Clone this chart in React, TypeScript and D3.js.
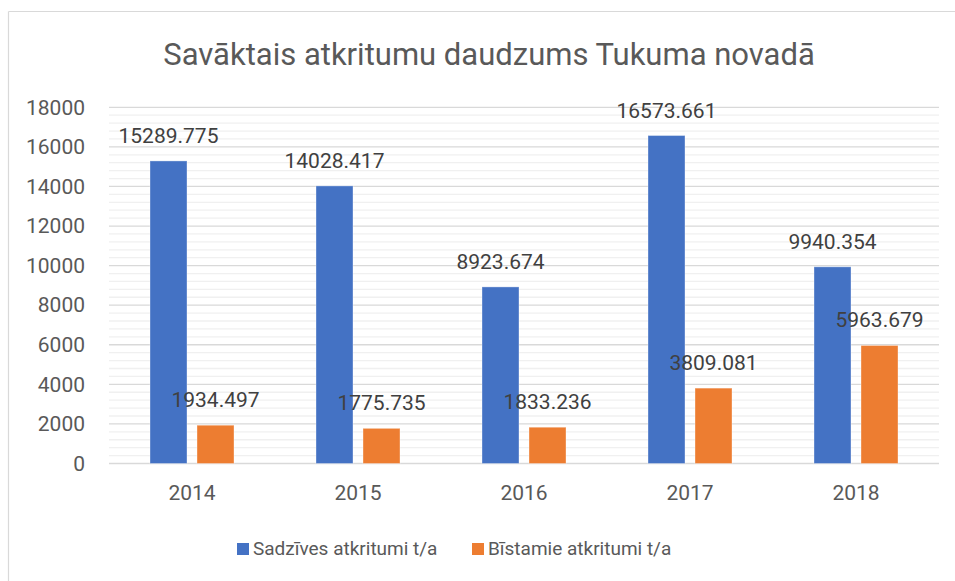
import React, { useEffect, useRef } from 'react'
import * as d3 from 'd3'

const years = ['2014', '2015', '2016', '2017', '2018']
const seriesNames = ['Sadzīves atkritumi t/a', 'Bīstamie atkritumi t/a']
const household = [15289.775, 14028.417, 8923.674, 16573.661, 9940.354]
const hazardous = [1934.497, 1775.735, 1833.236, 3809.081, 5963.679]
const seriesColors = ['#4472C4', '#ED7D31']
const yTicks = [0, 2000, 4000, 6000, 8000, 10000, 12000, 14000, 16000, 18000]

const W = 955
const H = 581
const FONT = 'Roboto, "Noto Sans", sans-serif'
const TEXT = '#595959'

const App = () => {
  const svgRef = useRef<SVGSVGElement | null>(null)

  useEffect(() => {
    const svg = d3.select(svgRef.current)
    svg.selectAll('*').remove()

    const margin = { top: 107.3, right: 16, bottom: 117.5, left: 109 }
    const innerW = W - margin.left - margin.right
    const innerH = H - margin.top - margin.bottom

    // outer frame (only top and left edges are visible in the crop)
    svg.append('line')
      .attr('x1', 8.5).attr('x2', W).attr('y1', 11.5).attr('y2', 11.5)
      .style('stroke', '#d9d9d9').style('stroke-width', 1.2)
    svg.append('line')
      .attr('x1', 8.5).attr('x2', 8.5).attr('y1', 11.5).attr('y2', H)
      .style('stroke', '#d9d9d9').style('stroke-width', 1.2)

    svg.append('text')
      .attr('x', 489)
      .attr('y', 65)
      .attr('text-anchor', 'middle')
      .style('font-family', FONT)
      .style('font-size', '31px')
      .style('fill', TEXT)
      .text('Savāktais atkritumu daudzums Tukuma novadā')

    const g = svg.append('g')
      .attr('transform', `translate(${margin.left},${margin.top})`)

    const y = d3.scaleLinear().domain([0, 18000]).range([innerH, 0])
    const x0 = d3.scaleBand().domain(years).range([0, innerW])
    const x1 = d3.scaleBand().domain(seriesNames).range([0, 84]).paddingInner(0.213)
    const groupOffset = x0.bandwidth() / 2 - 42

    // minor grid
    const minor = d3.range(0, 18001, 400).filter(v => v % 2000 !== 0)
    g.selectAll('.minor')
      .data(minor)
      .enter()
      .append('line')
      .attr('x1', 0).attr('x2', innerW)
      .attr('y1', d => y(d)).attr('y2', d => y(d))
      .style('stroke', '#f0f0f0')
      .style('stroke-width', 1.3)

    g.selectAll('.major')
      .data(yTicks)
      .enter()
      .append('line')
      .attr('x1', 0).attr('x2', innerW)
      .attr('y1', d => y(d)).attr('y2', d => y(d))
      .style('stroke', '#d9d9d9')
      .style('stroke-width', 1.3)

    const yAxis = g.append('g')
      .call(d3.axisLeft(y).tickValues(yTicks).tickFormat(d3.format('d')).tickSize(0).tickPadding(24))
    yAxis.select('.domain').remove()
    yAxis.selectAll('text')
      .style('font-family', FONT)
      .style('font-size', '21px')
      .style('fill', TEXT)

    const xAxis = g.append('g')
      .attr('transform', `translate(0,${innerH})`)
      .call(d3.axisBottom(x0).tickSize(0).tickPadding(22))
    xAxis.select('.domain').remove()
    xAxis.selectAll('text')
      .style('font-family', FONT)
      .style('font-size', '21px')
      .style('fill', TEXT)

    const rows = years.map((yr, i) => ({ yr, vals: [household[i], hazardous[i]] }))

    const groups = g.selectAll('.grp')
      .data(rows)
      .enter()
      .append('g')
      .attr('transform', d => `translate(${(x0(d.yr) || 0) + groupOffset},0)`)

    groups.selectAll('rect')
      .data(d => d.vals.map((v, k) => ({ v, k })))
      .enter()
      .append('rect')
      .attr('x', d => x1(seriesNames[d.k]) || 0)
      .attr('width', x1.bandwidth())
      .attr('y', d => y(d.v))
      .attr('height', d => innerH - y(d.v))
      .style('fill', d => seriesColors[d.k])
      .style('stroke', '#ffffff')
      .style('stroke-opacity', 0.35)
      .style('stroke-width', 1)

    groups.selectAll('.lbl')
      .data(d => d.vals.map((v, k) => ({ v, k })))
      .enter()
      .append('text')
      .attr('x', d => (x1(seriesNames[d.k]) || 0) + x1.bandwidth() / 2)
      .attr('y', d => y(d.v) - 18)
      .attr('text-anchor', 'middle')
      .style('font-family', FONT)
      .style('font-size', '21px')
      .style('fill', '#404040')
      .text(d => d3.format('.3f')(d.v))

    // legend
    const legend = svg.append('g')
    const legendX = [237, 472]
    seriesNames.forEach((name, i) => {
      legend.append('rect')
        .attr('x', legendX[i]).attr('y', 543)
        .attr('width', 12).attr('height', 12)
        .style('fill', seriesColors[i])
      legend.append('text')
        .attr('x', legendX[i] + 16).attr('y', 555)
        .style('font-family', FONT)
        .style('font-size', '19px')
        .style('fill', TEXT)
        .text(name)
    })
  }, [])

  return (
    <svg
      ref={svgRef}
      width={W}
      height={H}
      style={{ position: 'absolute', left: 0, top: 0, background: '#fff' }}
    />
  )
}

export default App
